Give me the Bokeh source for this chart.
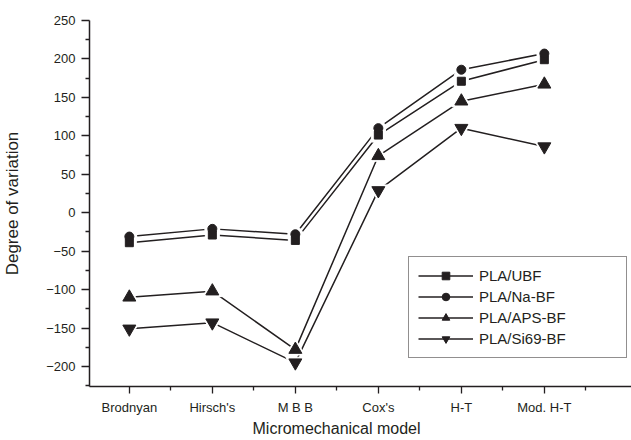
from bokeh.plotting import figure
from bokeh.models import FixedTicker, Legend, LegendItem, Range1d, Title
from bokeh.embed import file_html
from bokeh.resources import INLINE

models = ["Brodnyan", "Hirsch's", "M B B", "Cox's", "H-T", "Mod. H-T"]
x_pos = [1, 2, 3, 4, 5, 6]
pla_ubf = [-39, -29, -36, 101, 171, 199]
pla_na_bf = [-31, -21, -28, 110, 186, 207]
pla_aps_bf = [-110, -102, -178, 74, 145, 167]
pla_si69_bf = [-151, -143, -195, 29, 110, 86]
y_ticks = [-200, -150, -100, -50, 0, 50, 100, 150, 200, 250]
y_minor = [-225, -175, -125, -75, -25, 25, 75, 125, 175, 225]

INK = "#231f20"
FONT = "Liberation Sans"

p = figure(width=631, height=440, x_range=Range1d(0.52, 7.05), y_range=Range1d(-226, 250),
           output_backend="svg", toolbar_location=None,
           min_border_left=87, min_border_top=20, min_border_right=0, min_border_bottom=54)
p.outline_line_color = None
p.xgrid.visible = False
p.ygrid.visible = False
p.background_fill_color = "white"
p.border_fill_color = "white"

series = [
    ("PLA/UBF", pla_ubf, "square", 8),
    ("PLA/Na-BF", pla_na_bf, "circle", 9),
    ("PLA/APS-BF", pla_aps_bf, "triangle", 13),
    ("PLA/Si69-BF", pla_si69_bf, "inverted_triangle", 13),
]

items = []
line_rs = []
for name, vals, marker, size in series:
    lr = p.line(x_pos, vals, line_color=INK, line_width=1.5)
    line_rs.append((name, lr, vals, marker, size))
for name, lr, vals, marker, size in line_rs:
    p.scatter(x_pos, vals, marker=marker, size=size + 6, fill_color="white", line_color="white")
for name, lr, vals, marker, size in line_rs:
    sr = p.scatter(x_pos, vals, marker=marker, size=size, fill_color=INK, line_color=INK)
    items.append(LegendItem(label=name, renderers=[lr, sr]))

legend = Legend(items=items, location=(319, 28), glyph_width=55, glyph_height=19,
                label_text_font=FONT, label_text_font_size="15px", label_text_color=INK,
                label_width=138, label_height=19, label_standoff=6, spacing=2, padding=9, margin=0,
                border_line_color=INK, border_line_width=1.5, background_fill_alpha=1.0)
p.add_layout(legend, "center")

p.xaxis.ticker = FixedTicker(ticks=x_pos, minor_ticks=[1.5, 2.5, 3.5, 4.5, 5.5, 6.5])
p.xaxis.major_label_overrides = {i: m for i, m in zip(x_pos, models)}
p.yaxis.ticker = FixedTicker(ticks=y_ticks, minor_ticks=y_minor)

for ax in (p.xaxis[0], p.yaxis[0]):
    ax.axis_line_color = INK
    ax.axis_line_width = 1.5
    ax.major_tick_line_color = INK
    ax.minor_tick_line_color = INK
    ax.major_tick_line_width = 1.3
    ax.minor_tick_line_width = 1.3
    ax.major_tick_in = 0
    ax.minor_tick_in = 0
    ax.major_label_text_font = FONT
    ax.major_label_text_font_size = "13px"
    ax.major_label_text_color = INK
    ax.axis_label_text_font = FONT
    ax.axis_label_text_font_style = "normal"
    ax.axis_label_text_color = INK

p.xaxis.major_tick_out = 7
p.xaxis.minor_tick_out = 4
p.xaxis.major_label_standoff = 6

xlabel = Title(text="Micromechanical model", align="left", offset=163,
               text_font=FONT, text_font_size="16px", text_font_style="normal",
               text_color=INK, standoff=0)
p.add_layout(xlabel, "below")

p.yaxis.major_tick_out = 8
p.yaxis.minor_tick_out = 4
p.yaxis.major_label_standoff = 6
p.yaxis.axis_label = "Degree of variation"
p.yaxis.axis_label_text_font_size = "17px"
p.yaxis.axis_label_standoff = 21

open("out.html", "w").write(file_html(p, INLINE))
